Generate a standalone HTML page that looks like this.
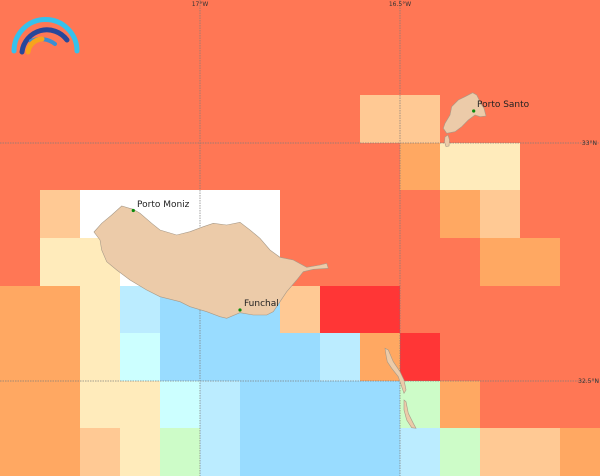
<!DOCTYPE html>
<html><head><meta charset="utf-8"><style>
html,body{margin:0;padding:0;background:#fff;}
svg{display:block;}
text{font-family:"DejaVu Sans","Liberation Sans",sans-serif;}
</style></head><body>
<svg width="600" height="476" viewBox="0 0 600 476" xmlns="http://www.w3.org/2000/svg">
<g shape-rendering="crispEdges" id="grid"></g>
<g stroke="#7a7a7a" stroke-width="1" stroke-dasharray="1.5,1" opacity="0.7" fill="none">
<line x1="200" y1="0" x2="200" y2="476"/>
<line x1="400" y1="0" x2="400" y2="476"/>
<line x1="0" y1="143" x2="600" y2="143"/>
<line x1="0" y1="381" x2="600" y2="381"/>
</g>
<g fill="#eccba9" stroke="#a89a88" stroke-width="0.6">
<polygon points="94,232 101.7,223.3 111.7,215 121.7,206 133.3,209.3 140,213.3 151.7,223.3 160,230 176.7,235 190,231.7 203.3,226.7 213.3,223.3 226.7,225 240,222.3 250,230 260,238.3 270,250 280,257.3 293.3,260 306.7,267.3 320,265 326.7,263.3 328.3,268.3 313.3,269.3 303.3,271.7 296.7,280 286.7,291.7 280,301.7 273.3,311.7 266.7,315 253.3,315 240,312.7 226.7,318.3 220,316.7 206.7,311.7 190,306.7 180,301.7 160,296.7 146.7,290 130,280 116.7,270 106.7,261.7 101.7,250 100,240"/>
<polygon points="472.7,92.7 476.7,95 481.7,105 484,108.3 486,116 480,116.7 475,115 468.3,120 461.7,126.7 455,131.7 446.7,133.3 443.3,128.3 445,123.3 450,115 451.7,106.7 458.3,100 465,96.7"/>
<polygon points="445,137 448,135 449.5,140 449,146 446,146.5 444.5,142"/>
<polygon points="385,348.3 388.3,350 393.3,361.7 400,371.7 404,380 406,390 404,393.3 401.7,386.7 398.3,376.7 391.7,368.3 387.3,361.7 386,355"/>
<polygon points="404,400 406,401.7 408.3,413.3 413.3,423.3 416,428.3 411.7,427.7 406.7,420 404,410"/>
</g>
<g fill="#0a8a0a">
<circle cx="133.3" cy="210.5" r="1.6"/>
<circle cx="240" cy="310" r="1.6"/>
<circle cx="473.7" cy="111" r="1.6"/>
</g>
<g font-size="9" fill="#222">
<text x="137" y="207">Porto Moniz</text>
<text x="244" y="306">Funchal</text>
<text x="477" y="107">Porto Santo</text>
</g>
<g font-size="6" fill="#333">
<text x="200" y="6" text-anchor="middle">17°W</text>
<text x="400" y="6" text-anchor="middle">16.5°W</text>
<text x="597" y="145" text-anchor="end">33°N</text>
<text x="599" y="383" text-anchor="end">32.5°N</text>
</g>
<g fill="none" stroke-linecap="round">
<path d="M14,51 A31.5,31.5 0 1 1 77,51" stroke="#36c1ec" stroke-width="5"/>
<path d="M22,52 A25,25 0 0 1 67,40" stroke="#27479a" stroke-width="5"/>
<path d="M31,41 A22,20 0 0 1 55,44" stroke="#3a8fd2" stroke-width="4"/>
<path d="M28,52 A15,15 0 0 1 42,39" stroke="#f7a41c" stroke-width="5"/>
</g>
</svg>
<script>
(function(){
var rows=[
"OOOOOOOOOOOOOOO",
"OOOOOOOOOOOOOOO",
"OOOOOOOOOPPOOOO",
"OOOOOOOOOOLYYOO",
"OPWWWWWOOOOLPOO",
"OYYWWWWOOOOOLLO",
"LLYBDDDPRROOOOO",
"LLYCDDDDBLROOOO",
"LLYYCBDDDDGLOOO",
"LLPYGBDDDDBGPPL"];
var col={O:"#ff7755",R:"#ff3636",L:"#ffa862",P:"#ffc994",Y:"#ffebbb",W:"#ffffff",G:"#cdfcc8",C:"#ccffff",B:"#bbecff",D:"#99dcff"};
var g=document.getElementById("grid");
var ns="http://www.w3.org/2000/svg";
for(var r=0;r<10;r++){for(var c=0;c<15;c++){
var y0=Math.round(r*47.6),y1=Math.round((r+1)*47.6);
var e=document.createElementNS(ns,"rect");
e.setAttribute("x",c*40);e.setAttribute("y",y0);
e.setAttribute("width",40);e.setAttribute("height",y1-y0);
e.setAttribute("fill",col[rows[r][c]]);
g.appendChild(e);}}
})();
</script>
</body></html>
